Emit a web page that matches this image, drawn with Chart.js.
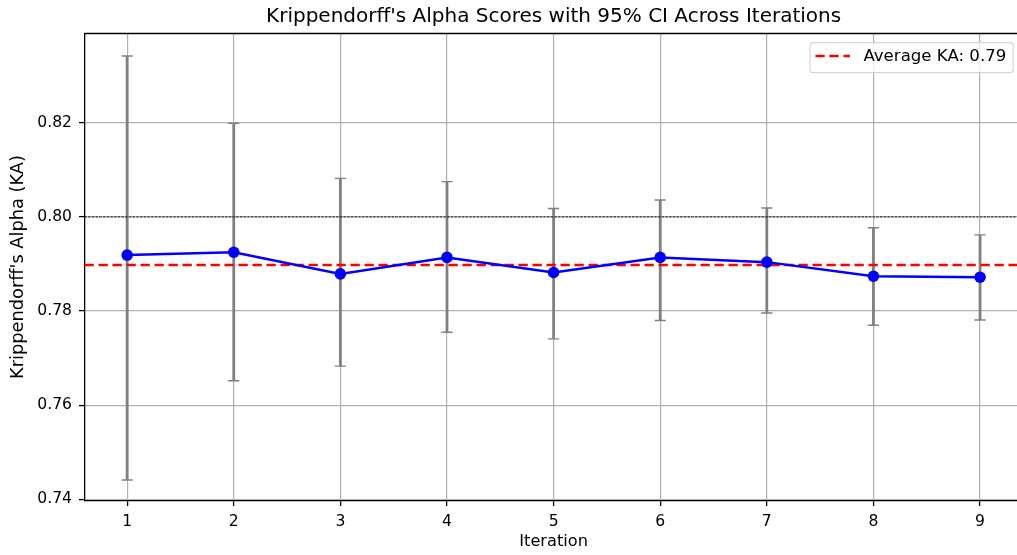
<!DOCTYPE html>
<html>
<head>
<meta charset="utf-8">
<title>Krippendorff's Alpha Scores with 95% CI Across Iterations</title>
<script src="https://cdn.jsdelivr.net/npm/chart.js@4.4.1/dist/chart.umd.min.js"></script>
<style>
  html, body { margin: 0; padding: 0; background: #fff; overflow: hidden; }
  #wrap { width: 1017px; height: 555px; overflow: hidden; }
  canvas { display: block; }
</style>
</head>
<body>
<div id="wrap"><canvas id="chart" width="1030" height="555"></canvas></div>
<script>
// Iterations and Krippendorff's alpha per iteration
const iterations = [1, 2, 3, 4, 5, 6, 7, 8, 9];
const kaScores   = [0.7919, 0.7925, 0.7879, 0.7914, 0.7882, 0.7914, 0.7904, 0.7874, 0.7872];
// 95% confidence interval bounds
const ciLower    = [0.7441, 0.7652, 0.7683, 0.7755, 0.7741, 0.7780, 0.7796, 0.7770, 0.7781];
const ciUpper    = [0.8342, 0.8199, 0.8082, 0.8075, 0.8018, 0.8036, 0.8019, 0.7977, 0.7962];
// Axis ticks
const yTickValues = [0.74, 0.76, 0.78, 0.80, 0.82];
const yTickLabels = ['0.74', '0.76', '0.78', '0.80', '0.82'];
const xTickLabels = ['1', '2', '3', '4', '5', '6', '7', '8', '9'];
// Reference threshold line
const referenceLevel = 0.80;

const averageKA = kaScores.reduce((s, v) => s + v, 0) / kaScores.length;
const averageLabel = 'Average KA: ' + averageKA.toFixed(2);

const FONT = '"DejaVu Sans", "Liberation Sans", sans-serif';
const TICK_PX = 15.6;
const LEGEND_PX = 16.6;

// Error bars, reference lines, spines and legend drawn through the chart's scales
const errorBarPlugin = {
  id: 'errorBars',
  afterLayout(chart) {
    // center the title over the plotting area
    if (chart.titleBlock) {
      chart.titleBlock.left = chart.chartArea.left;
      chart.titleBlock.right = chart.chartArea.right;
    }
  },
  beforeDatasetsDraw(chart) {
    const { ctx, chartArea, scales: { x, y } } = chart;
    ctx.save();
    // confidence intervals
    ctx.strokeStyle = '#808080';
    iterations.forEach((it, i) => {
      const px = x.getPixelForValue(it);
      const top = y.getPixelForValue(ciUpper[i]);
      const bot = y.getPixelForValue(ciLower[i]);
      ctx.lineWidth = 2.8;
      ctx.beginPath();
      ctx.moveTo(px, top);
      ctx.lineTo(px, bot);
      ctx.stroke();
      ctx.lineWidth = 1.4;
      ctx.beginPath();
      ctx.moveTo(px - 5.6, top); ctx.lineTo(px + 5.6, top);
      ctx.moveTo(px - 5.6, bot); ctx.lineTo(px + 5.6, bot);
      ctx.stroke();
    });
    // threshold line
    const ry = y.getPixelForValue(referenceLevel);
    ctx.strokeStyle = '#000';
    ctx.lineWidth = 0.9;
    ctx.setLineDash([2.4, 1.3]);
    ctx.beginPath();
    ctx.moveTo(chartArea.left, ry);
    ctx.lineTo(chartArea.right, ry);
    ctx.stroke();
    // average line
    const ay = y.getPixelForValue(averageKA);
    ctx.strokeStyle = '#ff0000';
    ctx.lineWidth = 2.5;
    ctx.setLineDash([9.3, 4.7]);
    ctx.beginPath();
    ctx.moveTo(chartArea.left, ay);
    ctx.lineTo(chartArea.right, ay);
    ctx.stroke();
    ctx.restore();
  },
  afterDraw(chart) {
    const { ctx, chartArea } = chart;
    ctx.save();
    // top and right spines
    ctx.strokeStyle = '#000';
    ctx.lineWidth = 1.3;
    ctx.beginPath();
    ctx.moveTo(chartArea.left, chartArea.top);
    ctx.lineTo(chartArea.right, chartArea.top);
    ctx.lineTo(chartArea.right, chartArea.bottom);
    ctx.stroke();

    // legend box in the upper right corner
    ctx.font = LEGEND_PX + 'px ' + FONT;
    const textW = ctx.measureText(averageLabel).width;
    const handle = 34.6, gap = 13.4, padL = 5.4, padR = 7;
    const boxW = padL + handle + gap + textW + padR;
    const boxH = 30;
    const bx = chartArea.right - 9.4 - boxW;
    const by = chartArea.top + 9.2;
    const r = 3;
    ctx.beginPath();
    ctx.moveTo(bx + r, by);
    ctx.lineTo(bx + boxW - r, by);
    ctx.arcTo(bx + boxW, by, bx + boxW, by + r, r);
    ctx.lineTo(bx + boxW, by + boxH - r);
    ctx.arcTo(bx + boxW, by + boxH, bx + boxW - r, by + boxH, r);
    ctx.lineTo(bx + r, by + boxH);
    ctx.arcTo(bx, by + boxH, bx, by + boxH - r, r);
    ctx.lineTo(bx, by + r);
    ctx.arcTo(bx, by, bx + r, by, r);
    ctx.closePath();
    ctx.fillStyle = 'rgba(255,255,255,0.8)';
    ctx.fill();
    ctx.strokeStyle = 'rgba(204,204,204,0.8)';
    ctx.lineWidth = 1.2;
    ctx.stroke();
    const cy = by + boxH / 2 - 1.7;
    ctx.strokeStyle = '#ff0000';
    ctx.lineWidth = 2.5;
    ctx.setLineDash([9.3, 4.7]);
    ctx.beginPath();
    ctx.moveTo(bx + padL, cy);
    ctx.lineTo(bx + padL + handle, cy);
    ctx.stroke();
    ctx.setLineDash([]);
    ctx.fillStyle = '#000';
    ctx.textBaseline = 'middle';
    ctx.textAlign = 'left';
    ctx.fillText(averageLabel, bx + padL + handle + gap, cy + 0.5);
    ctx.restore();
  }
};

new Chart(document.getElementById('chart'), {
  type: 'line',
  data: {
    datasets: [{
      label: "Krippendorff's Alpha",
      data: iterations.map((it, i) => ({ x: it, y: kaScores[i] })),
      borderColor: '#0000ff',
      backgroundColor: '#0000ff',
      borderWidth: 2.5,
      pointRadius: 5.8,
      pointBorderWidth: 0,
      pointHoverRadius: 5.8,
      tension: 0
    }]
  },
  options: {
    responsive: false,
    animation: false,
    devicePixelRatio: 1,
    layout: { padding: { left: 0, right: 7.3, top: 0, bottom: 0 } },
    plugins: {
      legend: { display: false },
      tooltip: { enabled: false },
      title: {
        display: true,
        text: "Krippendorff's Alpha Scores with 95% CI Across Iterations",
        color: '#000',
        font: { family: FONT, size: 20, weight: 'normal' },
        padding: { top: 5, bottom: 4.5 }
      }
    },
    scales: {
      x: {
        type: 'linear',
        min: 0.6,
        max: 9.4,
        afterBuildTicks(scale) { scale.ticks = iterations.map(v => ({ value: v })); },
        afterFit(scale) { scale.height = 54.5; },
        ticks: {
          color: '#000',
          font: { family: FONT, size: TICK_PX },
          padding: 6.5,
          maxRotation: 0,
          callback: (v) => xTickLabels[iterations.indexOf(v)]
        },
        grid: { color: '#b0b0b0', lineWidth: 1.2, tickColor: '#000', tickLength: 5.5, tickWidth: 1.3 },
        border: { display: true, color: '#000', width: 1.3 },
        title: {
          display: true, text: 'Iteration', color: '#000',
          font: { family: FONT, size: 16.2 }, padding: { top: 0, bottom: 3 }
        }
      },
      y: {
        type: 'linear',
        min: 0.73975,
        max: 0.83898,
        afterBuildTicks(scale) { scale.ticks = yTickValues.map(v => ({ value: v })); },
        afterFit(scale) { scale.width = 84.5; },
        ticks: {
          color: '#000',
          font: { family: FONT, size: TICK_PX },
          padding: 7,
          callback: (v) => yTickLabels[yTickValues.findIndex(t => Math.abs(t - v) < 1e-9)]
        },
        grid: { color: '#b0b0b0', lineWidth: 1.2, tickColor: '#000', tickLength: 5.5, tickWidth: 1.3 },
        border: { display: true, color: '#000', width: 1.3 },
        title: {
          display: true, text: "Krippendorff's Alpha (KA)", color: '#000',
          font: { family: FONT, size: 17.8 }, padding: { top: 7.5, bottom: 0 }
        }
      }
    }
  },
  plugins: [errorBarPlugin]
});
</script>
</body>
</html>
